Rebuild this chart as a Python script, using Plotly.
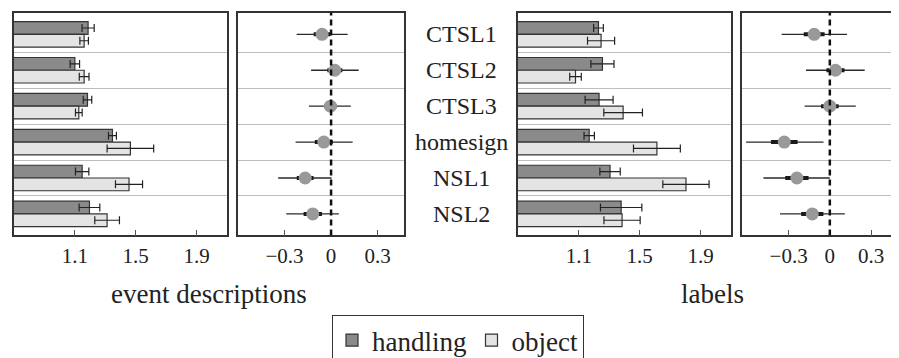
import plotly.graph_objects as go

categories = ["CTSL1", "CTSL2", "CTSL3", "homesign", "NSL1", "NSL2"]

# event descriptions: bar values and error half-widths
ev_handling = [1.187, 1.100, 1.183, 1.347, 1.148, 1.196]
ev_handling_err = [0.040, 0.031, 0.028, 0.026, 0.044, 0.068]
ev_object = [1.161, 1.161, 1.126, 1.465, 1.456, 1.312]
ev_object_err = [0.028, 0.032, 0.022, 0.153, 0.089, 0.081]

# labels: bar values and error half-widths
lb_handling = [1.229, 1.255, 1.233, 1.168, 1.305, 1.378]
lb_handling_err = [0.032, 0.076, 0.092, 0.034, 0.067, 0.136]
lb_object = [1.246, 1.078, 1.391, 1.613, 1.804, 1.384]
lb_object_err = [0.089, 0.038, 0.127, 0.154, 0.152, 0.119]

# effect estimates (difference), CI bounds, and inner (thick) half-width
ev_est = [-0.058, 0.024, -0.004, -0.047, -0.167, -0.118]
ev_lo = [-0.222, -0.129, -0.143, -0.229, -0.341, -0.289]
ev_hi = [0.107, 0.178, 0.127, 0.139, 0.003, 0.050]
ev_se = [0.054, 0.048, 0.040, 0.058, 0.054, 0.059]

lb_est = [-0.114, 0.041, 0.000, -0.332, -0.240, -0.128]
lb_lo = [-0.351, -0.174, -0.184, -0.610, -0.484, -0.363]
lb_hi = [0.126, 0.254, 0.189, -0.046, 0.000, 0.109]
lb_se = [0.076, 0.066, 0.064, 0.097, 0.085, 0.081]

bar_ticks = [1.1, 1.5, 1.9]
bar_ticktext = ["1.1", "1.5", "1.9"]
eff_ticks = [-0.3, 0, 0.3]
eff_ticktext = ["\u22120.3", "0", "0.3"]

FONT = "Liberation Serif, Times New Roman, DejaVu Serif, serif"
C_HANDLING = "#8a8a8a"
C_OBJECT = "#e4e4e4"
C_LINE = "#333333"

W, H = 899, 358
ypos = list(range(len(categories)))

fig = go.Figure()


def add_bars(xa, ya, hv, he, ov, oe, show):
    fig.add_trace(go.Bar(
        y=ypos, x=hv, orientation="h", name="handling",
        marker=dict(color=C_HANDLING, line=dict(color=C_LINE, width=1.2)),
        error_x=dict(type="data", array=he, color="#222", thickness=1.2, width=4),
        xaxis=xa, yaxis=ya, showlegend=show, legendgroup="h"))
    fig.add_trace(go.Bar(
        y=ypos, x=ov, orientation="h", name="object",
        marker=dict(color=C_OBJECT, line=dict(color=C_LINE, width=1.2)),
        error_x=dict(type="data", array=oe, color="#222", thickness=1.2, width=4),
        xaxis=xa, yaxis=ya, showlegend=show, legendgroup="o"))


def add_effects(xa, ya, est, lo, hi, se):
    plus = [h - e for h, e in zip(hi, est)]
    minus = [e - l for e, l in zip(est, lo)]
    fig.add_trace(go.Scatter(
        x=est, y=ypos, mode="markers", marker=dict(size=1, opacity=0),
        error_x=dict(type="data", symmetric=False, array=plus, arrayminus=minus,
                     color="#2a2a2a", thickness=1.3, width=0),
        xaxis=xa, yaxis=ya, showlegend=False, hoverinfo="skip"))
    fig.add_trace(go.Scatter(
        x=est, y=ypos, mode="markers", marker=dict(size=1, opacity=0),
        error_x=dict(type="data", array=se, color="#1a1a1a", thickness=4, width=0),
        xaxis=xa, yaxis=ya, showlegend=False, hoverinfo="skip"))
    fig.add_trace(go.Scatter(
        x=est, y=ypos, mode="markers",
        marker=dict(size=13, color="#999999", line=dict(width=0)),
        xaxis=xa, yaxis=ya, showlegend=False))


add_bars("x", "y", ev_handling, ev_handling_err, ev_object, ev_object_err, True)
add_effects("x2", "y2", ev_est, ev_lo, ev_hi, ev_se)
add_bars("x3", "y3", lb_handling, lb_handling_err, lb_object, lb_object_err, False)
add_effects("x4", "y4", lb_est, lb_lo, lb_hi, lb_se)

# panel pixel extents
panels = [(6, 219), (230, 396), (510, 723), (734, 898)]
ydom = [(H - 236) / H, (H - 5) / H]

axis_common = dict(showline=True, mirror=True, linecolor=C_LINE, linewidth=1.5,
                   ticks="inside", ticklen=6, tickcolor="#555", tickwidth=1.2,
                   showgrid=False, zeroline=False, ticklabelstandoff=1,
                   tickfont=dict(family=FONT, size=21, color="#222"))
yaxis_common = dict(range=[len(categories) - 0.4, -0.6],
                    tickvals=[i + 0.5 for i in range(len(categories) - 1)],
                    showticklabels=False, ticks="", showgrid=True,
                    gridcolor="#bdbdbd", gridwidth=1.2, zeroline=False,
                    showline=True, mirror=True, linecolor=C_LINE, linewidth=1.5,
                    domain=ydom)

xranges = [[0.7, 2.1], [-0.6, 0.47], [0.7, 2.1], [-0.64, 0.555]]
for i, (p, r) in enumerate(zip(panels, xranges)):
    sfx = "" if i == 0 else str(i + 1)
    is_bar = i in (0, 2)
    fig.update_layout(**{
        "xaxis" + sfx: dict(axis_common, domain=[p[0] / W, p[1] / W], range=r,
                            anchor="y" + sfx,
                            tickvals=bar_ticks if is_bar else eff_ticks,
                            ticktext=bar_ticktext if is_bar else eff_ticktext),
        "yaxis" + sfx: dict(yaxis_common, anchor="x" + sfx),
    })

# dashed zero lines in effect panels
for xr, yr in (("x2", "y2 domain"), ("x4", "y4 domain")):
    fig.add_shape(type="line", xref=xr, yref=yr, x0=0, x1=0, y0=0, y1=1,
                  line=dict(color="#111", width=2.5, dash="6px,4px"), layer="above")

# category labels in the middle
for yi, c in zip(ypos, categories):
    fig.add_annotation(x=453 / W, xref="paper", y=yi, yref="y", text=c,
                       showarrow=False, xanchor="center", yanchor="middle",
                       font=dict(family=FONT, size=24, color="#222"))

# group titles
fig.add_annotation(x=201 / W, y=(H - 297) / H, xref="paper", yref="paper",
                   text="event descriptions", showarrow=False,
                   xanchor="center", yanchor="middle",
                   font=dict(family=FONT, size=27, color="#222"))
fig.add_annotation(x=704 / W, y=(H - 297) / H, xref="paper", yref="paper",
                   text="labels", showarrow=False,
                   xanchor="center", yanchor="middle",
                   font=dict(family=FONT, size=27, color="#222"))

fig.update_layout(
    width=W, height=H, margin=dict(l=0, r=0, t=0, b=0),
    paper_bgcolor="white", plot_bgcolor="white",
    barmode="group", bargap=0.29, bargroupgap=0,
    showlegend=True,
    font=dict(family=FONT, color="#222"),
    legend=dict(orientation="h", x=324 / W, y=(H - 319) / H, xanchor="left",
                yanchor="top", bordercolor=C_LINE, borderwidth=1,
                font=dict(family=FONT, size=27, color="#222"),
                bgcolor="white"),
)

fig.write_html("out.html")
